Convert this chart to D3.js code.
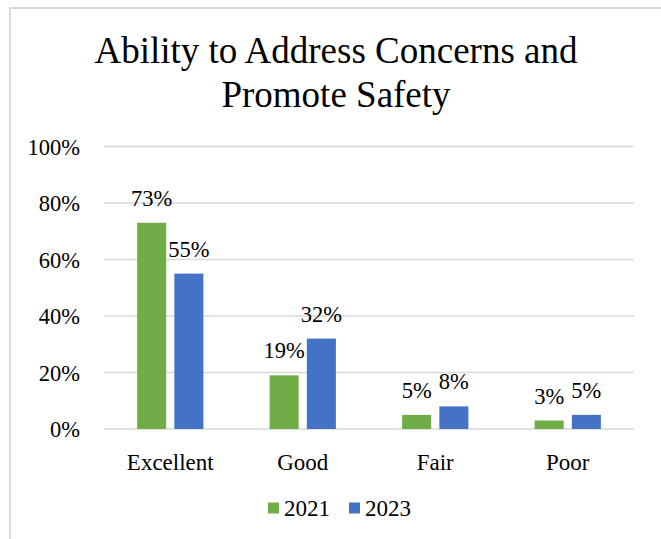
<!DOCTYPE html>
<html>
<head>
<meta charset="utf-8">
<script src="https://cdn.jsdelivr.net/npm/d3@7"></script>
<style>
  html, body { margin: 0; padding: 0; background: #fff; }
  svg { display: block; }
  svg text { font-family: "Liberation Serif", "Times New Roman", serif; fill: #000; }
</style>
</head>
<body>
<svg id="chart" width="661" height="539" font-family="Liberation Serif, Times New Roman, serif"></svg>
<script>
// Survey ratings by year
const categories = ["Excellent", "Good", "Fair", "Poor"];
const seriesNames = ["2021", "2023"];
const values2021 = [73, 19, 5, 3];
const values2023 = [55, 32, 8, 5];
const yTicks = [0, 20, 40, 60, 80, 100];
const titleLines = ["Ability to Address Concerns and", "Promote Safety"];

const colors = { "2021": "#70AD47", "2023": "#4472C4" };
const seriesValues = { "2021": values2021, "2023": values2023 };

const svg = d3.select("#chart");
const W = 661, H = 539;
const serif = "'Liberation Serif', 'Times New Roman', serif";

// chart frame
svg.append("rect")
  .attr("x", 10).attr("y", 8)
  .attr("width", W + 20).attr("height", H + 20)
  .attr("fill", "#fff")
  .attr("stroke", "#d9d9d9")
  .attr("stroke-width", 2);

// title
const title = svg.append("text")
  .attr("text-anchor", "middle")
  .style("font-family", serif)
  .style("font-size", "37px");
titleLines.forEach((line, i) => {
  title.append("tspan")
    .attr("x", 336)
    .attr("y", 63 + i * 44)
    .text(line);
});

const plot = { left: 104, right: 634, top: 146.5, bottom: 429 };

const x0 = d3.scaleBand()
  .domain(categories)
  .range([plot.left, plot.right])
  .paddingInner(0.5)
  .paddingOuter(0.25);

const x1 = d3.scaleBand()
  .domain(seriesNames)
  .range([0, x0.bandwidth()])
  .paddingInner(0.22);

const y = d3.scaleLinear()
  .domain([0, 100])
  .range([plot.bottom, plot.top]);

// gridlines
svg.append("g")
  .selectAll("line")
  .data(yTicks)
  .join("line")
  .attr("x1", plot.left).attr("x2", plot.right)
  .attr("y1", d => y(d)).attr("y2", d => y(d))
  .attr("stroke", "#d9d9d9")
  .attr("stroke-width", 1.4);

// y axis labels
const yAxis = d3.axisLeft(y)
  .tickValues(yTicks)
  .tickFormat(d => d + "%")
  .tickSize(0)
  .tickPadding(0);
const yAxisG = svg.append("g")
  .attr("transform", `translate(80,0)`)
  .call(yAxis)
  .attr("font-family", null)
  .attr("font-size", null);
yAxisG.select(".domain").remove();
yAxisG.selectAll("text")
  .attr("x", 0)
  .attr("dy", "0.34em")
  .style("font-family", serif)
  .style("font-size", "22.5px")
  .attr("fill", "#000");

// bars
const rows = categories.map((c, i) => ({
  category: c,
  items: seriesNames.map(s => ({ series: s, value: seriesValues[s][i] }))
}));

const groups = svg.append("g")
  .selectAll("g")
  .data(rows)
  .join("g")
  .attr("transform", d => `translate(${x0(d.category)},0)`);

groups.selectAll("rect")
  .data(d => d.items)
  .join("rect")
  .attr("x", d => x1(d.series))
  .attr("y", d => y(d.value))
  .attr("width", x1.bandwidth())
  .attr("height", d => y(0) - y(d.value))
  .attr("fill", d => colors[d.series]);

// value labels
groups.selectAll("text")
  .data(d => d.items)
  .join("text")
  .attr("x", d => x1(d.series) + x1.bandwidth() / 2)
  .attr("y", d => y(d.value) - 17)
  .attr("text-anchor", "middle")
  .style("font-family", serif)
  .style("font-size", "22.5px")
  .text(d => d.value + "%");

// category axis labels
const xAxis = d3.axisBottom(x0).tickSize(0).tickPadding(0);
const xAxisG = svg.append("g")
  .attr("transform", `translate(0,${plot.bottom})`)
  .call(xAxis)
  .attr("font-family", null)
  .attr("font-size", null);
xAxisG.select(".domain").remove();
xAxisG.selectAll("text")
  .attr("y", 41)
  .attr("dy", 0)
  .style("font-family", serif)
  .style("font-size", "23px")
  .attr("fill", "#000");

// legend
const legendX = [268, 349];
const legend = svg.append("g")
  .selectAll("g")
  .data(seriesNames)
  .join("g")
  .attr("transform", (d, i) => `translate(${legendX[i]},0)`);
legend.append("rect")
  .attr("x", 0).attr("y", 502.5)
  .attr("width", 11).attr("height", 11)
  .attr("fill", d => colors[d]);
legend.append("text")
  .attr("x", 16).attr("y", 516)
  .style("font-family", serif)
  .style("font-size", "23px")
  .text(d => d);
</script>
</body>
</html>
